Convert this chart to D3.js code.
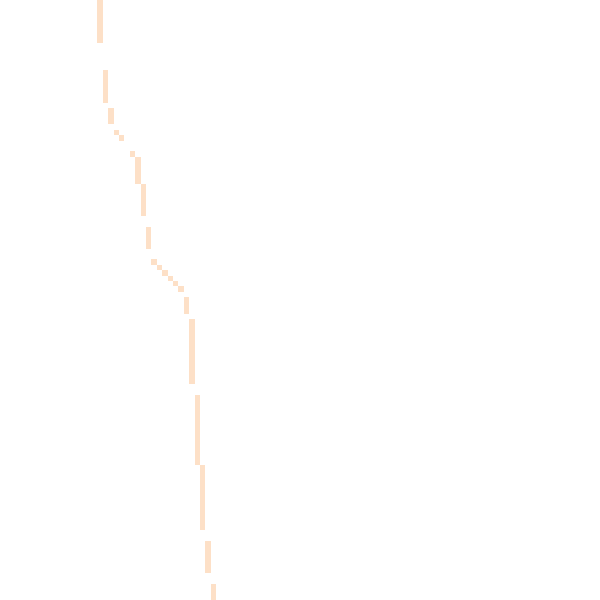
<!DOCTYPE html>
<html>
<head>
<meta charset="utf-8">
<script src="https://cdn.jsdelivr.net/npm/d3@7"></script>
<style>
	html, body { margin: 0; padding: 0; background: #fff; }
	svg { display: block; }
	.cell { fill: #fde0c7; shape-rendering: crispEdges; }
</style>
</head>
<body>
<script>
(function(){

	//grid size (cells per side)
	var gridSize = 111;

	//column index of each filled run of cells
	var runCols   = [18, 19, 20, 21, 22, 24, 25, 26, 27, 28, 29, 30, 31, 32, 33, 34, 35, 36, 37, 38, 39];
	//first and last row of each run
	var runStarts = [0, 13, 20, 24, 25, 28, 29, 34, 42, 48, 49, 50, 51, 52, 53, 55, 59, 73, 86, 100, 108];
	var runEnds   = [7, 18, 22, 24, 25, 28, 33, 39, 45, 48, 49, 50, 51, 52, 53, 57, 70, 85, 97, 105, 110];

	//frame dimensions
	var width = 600,
		height = 600;

	var svg = d3.select("body")
		.append("svg")
		.attr("width", width)
		.attr("height", height);

	//band scales for grid columns and rows
	var xScale = d3.scaleBand()
		.domain(d3.range(gridSize))
		.range([0, width]);

	var yScale = d3.scaleBand()
		.domain(d3.range(gridSize))
		.range([0, height]);

	var runs = runCols.map(function(c, i){
		return { col: c, start: runStarts[i], end: runEnds[i] };
	});

	//draw each run as one rect
	svg.selectAll(".cell")
		.data(runs)
		.enter()
		.append("rect")
		.attr("class", "cell")
		.attr("x", function(d){ return xScale(d.col); })
		.attr("width", xScale.bandwidth())
		.attr("y", function(d){ return yScale(d.start); })
		.attr("height", function(d){
			return yScale(d.end) + yScale.bandwidth() - yScale(d.start);
		});
})();
</script>
</body>
</html>
